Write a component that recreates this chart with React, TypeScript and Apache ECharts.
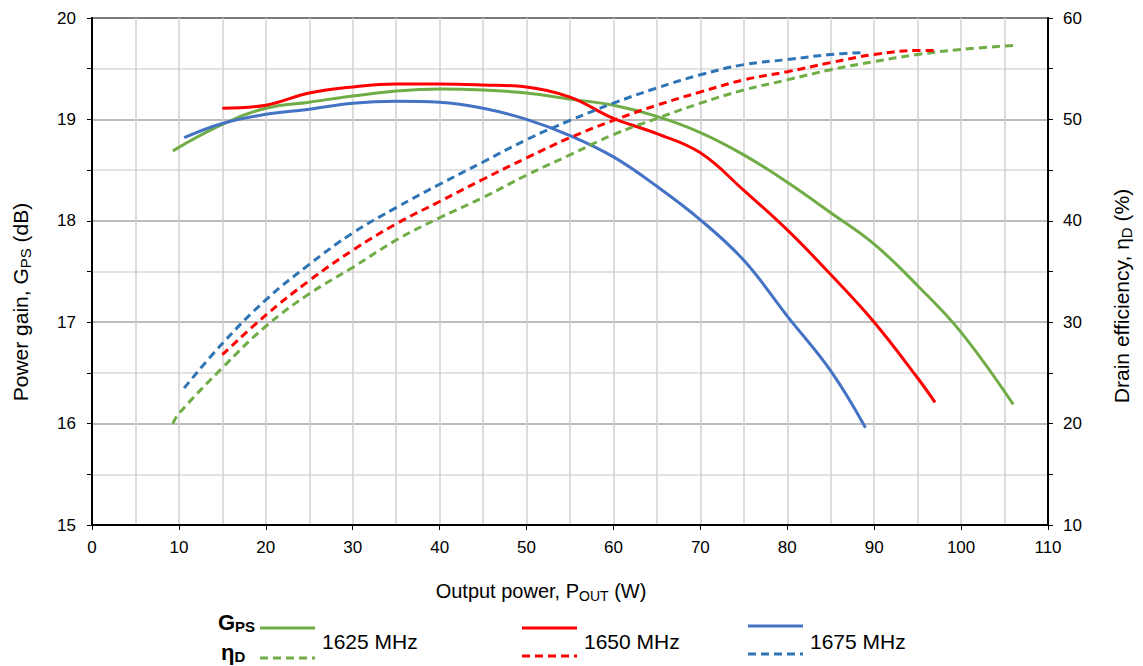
import React, { useEffect, useRef } from "react";
import * as echarts from "echarts";

// Power gain (dB) vs output power (W)
const gain1625X = [9.3, 15, 20, 25, 30, 35, 40, 45, 50, 55, 60, 65, 70, 75, 80, 85, 90, 95, 100, 106];
const gain1625 = [18.69, 18.95, 19.11, 19.17, 19.23, 19.28, 19.3, 19.29, 19.26, 19.2, 19.14, 19.03, 18.87, 18.65, 18.38, 18.08, 17.77, 17.36, 16.9, 16.19];

const gain1650X = [15, 20, 25, 30, 35, 40, 45, 50, 55, 60, 65, 70, 75, 80, 85, 90, 95, 97];
const gain1650 = [19.11, 19.14, 19.26, 19.32, 19.35, 19.35, 19.34, 19.32, 19.22, 19.01, 18.86, 18.67, 18.3, 17.91, 17.47, 17.0, 16.45, 16.21];

const gain1675X = [10.6, 15, 20, 25, 30, 35, 40, 45, 50, 55, 60, 65, 70, 75, 80, 85, 89];
const gain1675 = [18.82, 18.96, 19.05, 19.1, 19.16, 19.18, 19.17, 19.11, 19.0, 18.84, 18.63, 18.34, 18.01, 17.61, 17.06, 16.52, 15.96];

// Drain efficiency (%) vs output power (W)
const eff1625X = [9.3, 10, 15, 20, 25, 30, 35, 40, 45, 50, 55, 60, 65, 70, 75, 80, 85, 90, 95, 100, 106];
const eff1625 = [20.0, 21.0, 25.5, 29.6, 32.8, 35.4, 38.1, 40.3, 42.3, 44.5, 46.5, 48.5, 50.1, 51.6, 52.9, 53.9, 54.9, 55.7, 56.4, 56.9, 57.3];

const eff1650X = [15, 20, 25, 30, 35, 40, 45, 50, 55, 60, 65, 70, 75, 80, 85, 90, 95, 97];
const eff1650 = [26.8, 30.7, 34.1, 37.1, 39.7, 41.9, 44.1, 46.2, 48.2, 49.9, 51.4, 52.7, 53.9, 54.7, 55.6, 56.4, 56.8, 56.8];

const eff1675X = [10.6, 15, 20, 25, 30, 35, 40, 45, 50, 55, 60, 65, 70, 75, 80, 85, 89];
const eff1675 = [23.5, 27.9, 32.2, 35.7, 38.8, 41.3, 43.6, 45.8, 48.0, 49.9, 51.6, 53.1, 54.4, 55.4, 55.9, 56.4, 56.6];

const legendLabels = ["1625 MHz", "1650 MHz", "1675 MHz"];
const GREEN = "#70AD47";
const RED = "#FF0000";
const BLUE = "#4472C4";
const BLUE_D = "#2E75B6";
const FONT = "Arial, 'Liberation Sans', sans-serif";

const pairs = (xs: number[], ys: number[]) => xs.map((x, i) => [x, ys[i]]);

export default function App() {
  const ref = useRef<HTMLDivElement>(null);
  useEffect(() => {
    if (!ref.current) return;
    const chart = echarts.init(ref.current, null, { renderer: "svg" });
    const solid = (name: string, xs: number[], ys: number[], color: string) => ({
      name,
      type: "line",
      yAxisIndex: 0,
      data: pairs(xs, ys),
      smooth: 0.4,
      showSymbol: false,
      lineStyle: { color, width: 3 },
    });
    const dashed = (name: string, xs: number[], ys: number[], color: string) => ({
      name,
      type: "line",
      yAxisIndex: 1,
      data: pairs(xs, ys),
      smooth: 0.4,
      showSymbol: false,
      lineStyle: { color, width: 3, type: [8, 5] },
    });
    const legendItem = (x: number, color: string, dcolor: string, label: string, ys: number, yd: number) => [
      { type: "line", shape: { x1: x, y1: ys, x2: x + 55, y2: ys }, style: { stroke: color, lineWidth: 3 } },
      { type: "line", shape: { x1: x, y1: yd, x2: x + 55, y2: yd }, style: { stroke: dcolor, lineWidth: 3, lineDash: [8, 5] } },
      { type: "text", x: x + 62, y: 641, style: { text: label, font: `21px ${FONT}`, fill: "#000", verticalAlign: "middle" } },
    ];
    const nameRich = (size: number, sub: number) => ({
      a: { font: `${size}px ${FONT}`, fill: "#000", lineHeight: size + 4 },
      s: { font: `${sub}px ${FONT}`, fill: "#000", verticalAlign: "bottom", lineHeight: size + 4, padding: [0, 0, 0, 0] },
    });
    chart.setOption({
      animation: false,
      backgroundColor: "#fff",
      textStyle: { fontFamily: FONT },
      grid: { left: 92, right: 95, top: 18, bottom: 141, show: true, borderColor: "#000", borderWidth: 2 },
      xAxis: {
        type: "value",
        min: 0,
        max: 110,
        interval: 10,
        axisLine: { lineStyle: { color: "#000", width: 2 } },
        axisTick: { show: true, length: 5, lineStyle: { color: "#000" } },
        axisLabel: { color: "#000", fontSize: 17, margin: 14 },
        splitLine: { show: true, lineStyle: { color: "#D0D0D0", width: 1.5 } },
        minorTick: { show: false, splitNumber: 2 },
        minorSplitLine: { show: true, lineStyle: { color: "#D0D0D0", width: 1.5 } },
      },
      yAxis: [
        {
          type: "value",
          min: 15,
          max: 20,
          interval: 0.5,
          position: "left",
          axisLine: { show: true, lineStyle: { color: "#000", width: 2 } },
          axisTick: { show: true, length: 5, lineStyle: { color: "#000" } },
          axisLabel: {
            color: "#000",
            fontSize: 17,
            margin: 16,
            formatter: (v: number) => (Number.isInteger(v) ? String(v) : ""),
          },
          splitLine: { show: true, lineStyle: { color: ["#A6A6A6", "#D9D9D9"], width: 1.5 } },
        },
        {
          type: "value",
          min: 10,
          max: 60,
          interval: 5,
          position: "right",
          axisLine: { show: true, lineStyle: { color: "#000", width: 2 } },
          axisTick: { show: true, length: 5, lineStyle: { color: "#000" } },
          axisLabel: {
            color: "#000",
            fontSize: 17,
            margin: 15,
            formatter: (v: number) => (v % 10 === 0 ? String(v) : ""),
          },
          splitLine: { show: false },
        },
      ],
      series: [
        solid("GPS 1625", gain1625X, gain1625, GREEN),
        solid("GPS 1650", gain1650X, gain1650, RED),
        solid("GPS 1675", gain1675X, gain1675, BLUE),
        dashed("ηD 1625", eff1625X, eff1625, GREEN),
        dashed("ηD 1650", eff1650X, eff1650, RED),
        dashed("ηD 1675", eff1675X, eff1675, BLUE_D),
      ],
      graphic: [
        {
          type: "text",
          x: 541,
          y: 591,
          style: {
            text: "{a|Output power, P}{s|OUT}{a| (W)}",
            align: "center",
            verticalAlign: "middle",
            rich: nameRich(20, 14),
          },
        },
        {
          type: "text",
          x: 20,
          y: 302,
          rotation: Math.PI / 2,
          style: {
            text: "{a|Power gain, G}{s|PS}{a| (dB)}",
            align: "center",
            verticalAlign: "middle",
            rich: nameRich(21, 15),
          },
        },
        {
          type: "text",
          x: 1121,
          y: 296,
          rotation: Math.PI / 2,
          style: {
            text: "{a|Drain efficiency, η}{s|D}{a| (%)}",
            align: "center",
            verticalAlign: "middle",
            rich: nameRich(21, 15),
          },
        },
        {
          type: "text",
          x: 218,
          y: 622,
          style: {
            text: "{b|G}{s|PS}",
            verticalAlign: "middle",
            rich: {
              b: { font: `bold 22px ${FONT}`, fill: "#000", lineHeight: 24 },
              s: { font: `bold 15px ${FONT}`, fill: "#000", verticalAlign: "bottom", lineHeight: 24 },
            },
          },
        },
        {
          type: "text",
          x: 221,
          y: 652,
          style: {
            text: "{b|η}{s|D}",
            verticalAlign: "middle",
            rich: {
              b: { font: `bold 22px ${FONT}`, fill: "#000", lineHeight: 24 },
              s: { font: `bold 15px ${FONT}`, fill: "#000", verticalAlign: "bottom", lineHeight: 24 },
            },
          },
        },
        ...legendItem(260, GREEN, GREEN, legendLabels[0], 628, 658),
        ...legendItem(522, RED, RED, legendLabels[1], 628, 656),
        ...legendItem(748, BLUE, BLUE_D, legendLabels[2], 626, 654),
      ],
    });
    return () => chart.dispose();
  }, []);
  return <div ref={ref} style={{ position: "fixed", left: 0, top: 0, width: 1143, height: 666, background: "#fff" }} />;
}
